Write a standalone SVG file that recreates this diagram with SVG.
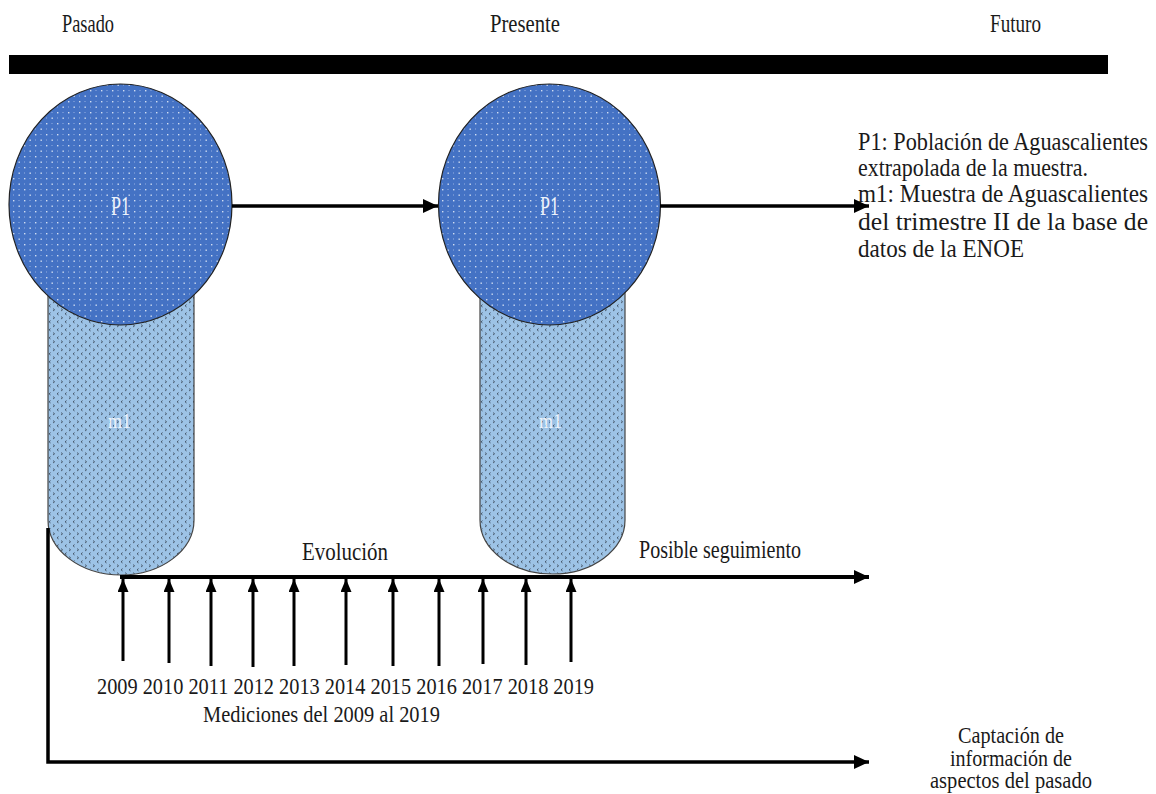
<svg xmlns="http://www.w3.org/2000/svg" width="1156" height="794" viewBox="0 0 1156 794">
<style>
text{font-family:"Liberation Serif","Times New Roman","DejaVu Serif",serif;fill:#1a1a1a;}
.hd{font-size:25px;}
.lab{font-size:27px;fill:#eef3fb;}
.ml{font-size:22px;fill:#eef3fb;}
.tx{font-size:25px;}
.sm{font-size:24px;}
.circ{fill:url(#dots);stroke:#222;stroke-width:1.2;}
.pill{fill:url(#divot);stroke:#444;stroke-width:1.2;}
.ln{stroke:#000;fill:none;}
</style>
<defs>
<pattern id="dots" patternUnits="userSpaceOnUse" width="11" height="11">
<rect width="11" height="11" fill="#4472C4"/>
<rect x="2" y="2" width="1.4" height="1.4" fill="#dfe8f7" opacity="0.9"/>
<rect x="7.5" y="7.5" width="1.4" height="1.4" fill="#dfe8f7" opacity="0.9"/>
<rect x="7.5" y="2" width="1" height="1" fill="#b9cbee" opacity="0.7"/>
<rect x="2" y="7.5" width="1" height="1" fill="#b9cbee" opacity="0.7"/>
</pattern>
<pattern id="divot" patternUnits="userSpaceOnUse" width="8" height="8">
<rect width="8" height="8" fill="#9DC3E6"/>
<path d="M2.6,0.6 L1,1.8 L2.6,3" fill="none" stroke="#2a3440" stroke-width="0.7"/>
<path d="M5,4.6 L6.6,5.8 L5,7" fill="none" stroke="#2a3440" stroke-width="0.7"/>
</pattern>
<marker id="ahL" markerUnits="userSpaceOnUse" markerWidth="16" markerHeight="16" refX="15" refY="7" orient="auto">
<path d="M0,0 L15,7 L0,14 Z" fill="#000"/>
</marker>
<marker id="ahS" markerUnits="userSpaceOnUse" markerWidth="14" markerHeight="12" refX="13" refY="5.5" orient="auto">
<path d="M0,0 L13,5.5 L0,11 Z" fill="#000"/>
</marker>
</defs>
<rect width="1156" height="794" fill="#fff"/>

<g id="headers">
<text class="hd" x="62" y="32" textLength="52" lengthAdjust="spacingAndGlyphs">Pasado</text>
<text class="hd" x="490" y="32" textLength="70" lengthAdjust="spacingAndGlyphs">Presente</text>
<text class="hd" x="990" y="32" textLength="51" lengthAdjust="spacingAndGlyphs">Futuro</text>
</g>

<g id="timebar">
<rect x="9" y="55" width="1099" height="19" fill="#000"/>
</g>

<g id="m1-pasado">
<path class="pill" d="M48,260 L48,520 A73,55 0 0 0 194,520 L194,260 Z"/>
<text class="ml" x="108" y="428" textLength="23" lengthAdjust="spacingAndGlyphs">m1</text>
</g>
<g id="m1-presente">
<path class="pill" d="M480,260 L480,520 A72.5,54 0 0 0 625,520 L625,260 Z"/>
<text class="ml" x="539" y="428" textLength="23" lengthAdjust="spacingAndGlyphs">m1</text>
</g>

<g id="p1-pasado">
<ellipse class="circ" cx="120.5" cy="204.5" rx="111.5" ry="120.5"/>
<text class="lab" x="111" y="215" textLength="19" lengthAdjust="spacingAndGlyphs">P1</text>
</g>
<g id="p1-presente">
<ellipse class="circ" cx="549.5" cy="204.5" rx="111" ry="120.5"/>
<text class="lab" x="540" y="215" textLength="19" lengthAdjust="spacingAndGlyphs">P1</text>
</g>

<g id="connectors">
<line class="ln" x1="232" y1="206" x2="438" y2="206" stroke-width="3.5" marker-end="url(#ahL)"/>
<line class="ln" x1="660" y1="206" x2="869" y2="206" stroke-width="3.5" marker-end="url(#ahL)"/>
<line class="ln" x1="120" y1="577" x2="869" y2="577" stroke-width="4" marker-end="url(#ahL)"/>
<polyline class="ln" points="48,528 48,762 869,762" stroke-width="3.5" marker-end="url(#ahL)"/>
<g stroke-width="3">
<line class="ln" x1="123" y1="661" x2="123" y2="579" marker-end="url(#ahS)"/>
<line class="ln" x1="169" y1="663" x2="169" y2="579" marker-end="url(#ahS)"/>
<line class="ln" x1="211" y1="666" x2="211" y2="579" marker-end="url(#ahS)"/>
<line class="ln" x1="253" y1="667" x2="253" y2="579" marker-end="url(#ahS)"/>
<line class="ln" x1="294" y1="666" x2="294" y2="579" marker-end="url(#ahS)"/>
<line class="ln" x1="346" y1="665" x2="346" y2="579" marker-end="url(#ahS)"/>
<line class="ln" x1="393" y1="666" x2="393" y2="579" marker-end="url(#ahS)"/>
<line class="ln" x1="439" y1="666" x2="439" y2="579" marker-end="url(#ahS)"/>
<line class="ln" x1="483" y1="664" x2="483" y2="579" marker-end="url(#ahS)"/>
<line class="ln" x1="526" y1="665" x2="526" y2="579" marker-end="url(#ahS)"/>
<line class="ln" x1="571" y1="662" x2="571" y2="579" marker-end="url(#ahS)"/>
</g>
</g>

<g id="legend">
<text class="tx" x="858" y="150" textLength="290" lengthAdjust="spacingAndGlyphs">P1: Población de Aguascalientes</text>
<text class="tx" x="858" y="176" textLength="230" lengthAdjust="spacingAndGlyphs">extrapolada de la muestra.</text>
<text class="tx" x="858" y="202" textLength="290" lengthAdjust="spacingAndGlyphs">m1: Muestra de Aguascalientes</text>
<text class="tx" x="858" y="230" textLength="290" lengthAdjust="spacingAndGlyphs">del trimestre II de la base de</text>
<text class="tx" x="858" y="257" textLength="166" lengthAdjust="spacingAndGlyphs">datos de la ENOE</text>
</g>

<g id="labels">
<text class="tx" x="302" y="560" textLength="86" lengthAdjust="spacingAndGlyphs">Evolución</text>
<text class="tx" x="639" y="558" textLength="162" lengthAdjust="spacingAndGlyphs">Posible seguimiento</text>
<text class="sm" x="97" y="694" textLength="497" lengthAdjust="spacingAndGlyphs">2009 2010 2011 2012 2013 2014 2015 2016 2017 2018 2019</text>
<text class="sm" x="203" y="722" textLength="237" lengthAdjust="spacingAndGlyphs">Mediciones  del 2009 al 2019</text>
</g>

<g id="captacion">
<text class="sm" x="958" y="743" textLength="106" lengthAdjust="spacingAndGlyphs">Captación de</text>
<text class="sm" x="950" y="766" textLength="122" lengthAdjust="spacingAndGlyphs">información de</text>
<text class="sm" x="930" y="788" textLength="162" lengthAdjust="spacingAndGlyphs">aspectos del pasado</text>
</g>
</svg>
